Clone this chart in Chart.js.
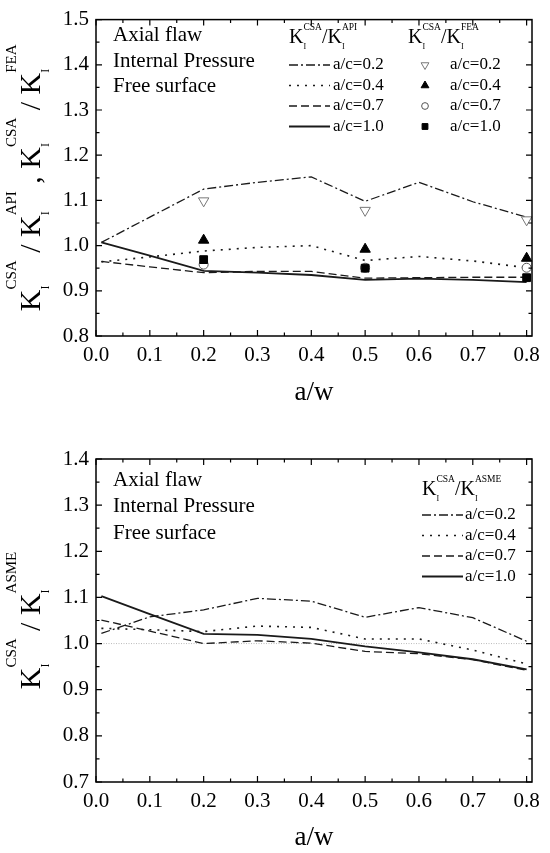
<!DOCTYPE html>
<html>
<head>
<meta charset="utf-8">
<script src="https://cdn.jsdelivr.net/npm/chart.js"></script>
<style>
  html, body { margin: 0; padding: 0; background: #fff; }
  canvas { display: block; }
</style>
</head>
<body>
<canvas id="topChart" width="550" height="426"></canvas>
<canvas id="bottomChart" width="550" height="427"></canvas>
<script>
// a/w positions of the curves and of the FEA points
var aw = [0.01, 0.1, 0.2, 0.3, 0.4, 0.5, 0.6, 0.7, 0.8];
var awFea = [0.2, 0.5, 0.8];
var awRef = [0, 0.8];

// KI(CSA)/KI(API), top chart
var api02 = [1.007, 1.063, 1.125, 1.140, 1.152, 1.098, 1.140, 1.097, 1.063];
var api04 = [0.964, 0.975, 0.988, 0.996, 1.000, 0.967, 0.976, 0.966, 0.951];
var api07 = [0.965, 0.953, 0.940, 0.943, 0.943, 0.928, 0.929, 0.930, 0.930];
var api10 = [1.007, 0.978, 0.944, 0.940, 0.935, 0.924, 0.927, 0.924, 0.919];

// KI(CSA)/KI(FEA), top chart
var fea02 = [1.099, 1.078, 1.057];
var fea04 = [1.012, 0.992, 0.972];
var fea07 = [0.958, 0.951, 0.951];
var fea10 = [0.969, 0.950, 0.929];

// KI(CSA)/KI(ASME), bottom chart
var asme02 = [1.022, 1.058, 1.073, 1.098, 1.092, 1.057, 1.078, 1.056, 1.005];
var asme04 = [1.033, 1.030, 1.026, 1.038, 1.035, 1.010, 1.010, 0.986, 0.956];
var asme07 = [1.051, 1.027, 1.000, 1.006, 1.001, 0.983, 0.978, 0.965, 0.942];
var asme10 = [1.103, 1.064, 1.021, 1.019, 1.010, 0.994, 0.981, 0.966, 0.944];
var refLine = [1.0, 1.0];

var acLabels = ['a/c=0.2', 'a/c=0.4', 'a/c=0.7', 'a/c=1.0'];
var xTicks = [0, 0.1, 0.2, 0.3, 0.4, 0.5, 0.6, 0.7, 0.8];
var yTicksTop = [0.8, 0.9, 1.0, 1.1, 1.2, 1.3, 1.4, 1.5];
var yTicksBottom = [0.7, 0.8, 0.9, 1.0, 1.1, 1.2, 1.3, 1.4];

var FONT = '"Liberation Serif", "Times New Roman", serif';
var DASHDOT = [9, 3, 2, 3], DOT = [2, 6], DASH = [8, 4], SOLID = [];

function pts(xs, ys) {
  return ys.map(function (y, i) { return { x: xs[i], y: y }; });
}

function lineSet(label, ys, dash, width, order) {
  return {
    label: label, data: pts(aw, ys), showLine: true, borderColor: '#1a1a1a',
    borderWidth: width, borderDash: dash, pointRadius: 0, tension: 0,
    order: order, kind: 'line'
  };
}

function markSet(label, ys, style, rot, fill, stroke, r, order) {
  return {
    label: label, data: pts(awFea, ys), showLine: false, pointStyle: style,
    pointRotation: rot, pointRadius: r, pointBackgroundColor: fill,
    pointBorderColor: stroke, pointBorderWidth: 1, clip: 10,
    order: order, kind: 'mark'
  };
}

// writes K_I^XXX style text; returns width
function rich(ctx, parts, x, y, f, draw) {
  var cx = x;
  parts.forEach(function (p) {
    ctx.font = f.size + 'px ' + FONT;
    if (p.t !== undefined) {
      if (draw) ctx.fillText(p.t, cx, y);
      cx += ctx.measureText(p.t).width;
      return;
    }
    if (draw) ctx.fillText(p.b, cx, y);
    cx += ctx.measureText(p.b).width;
    ctx.font = f.sub + 'px ' + FONT;
    var w1 = ctx.measureText(p.lo).width;
    if (draw) ctx.fillText(p.lo, cx, y + f.subOff);
    ctx.font = f.sup + 'px ' + FONT;
    var w2 = ctx.measureText(p.hi).width;
    if (draw) ctx.fillText(p.hi, cx, y - f.supOff);
    cx += Math.max(w1, w2);
  });
  return cx - x;
}

function mids(v) {
  var out = [];
  for (var i = 0; i < v.length - 1; i++) out.push((v[i] + v[i + 1]) / 2);
  return out;
}

var K = function (sup) { return { b: 'K', lo: 'I', hi: sup }; };
var T = function (s) { return { t: s }; };

// texts and legend layout of each panel (kept outside the chart options)
var panels = {
  topChart: {
    xTicks: xTicks, yTicks: yTicksTop,
    yTitle: [K('CSA'), T(' / '), K('API'), T(' , '), K('CSA'), T(' / '), K('FEA')],
    xTitleY: 393,
    notes: ['Axial flaw', 'Internal Pressure', 'Free surface'],
    notesY: [35, 61, 86],
    legends: [
      { kind: 'line', x: 289, headerY: 43, header: [K('CSA'), T('/'), K('API')],
        rowsY: [65, 85.5, 106, 126.5], textX: 333 },
      { kind: 'mark', x: 408, headerY: 43, header: [K('CSA'), T('/'), K('FEA')],
        rowsY: [65, 85.5, 106, 126.5], markX: 425, textX: 450 }
    ]
  },
  bottomChart: {
    xTicks: xTicks, yTicks: yTicksBottom,
    yTitle: [K('CSA'), T(' / '), K('ASME')],
    xTitleY: 412,
    notes: ['Axial flaw', 'Internal Pressure', 'Free surface'],
    notesY: [54, 80, 107],
    legends: [
      { kind: 'line', x: 422, headerY: 69, header: [K('CSA'), T('/'), K('ASME')],
        rowsY: [89, 109.5, 130, 150.5], textX: 465 }
    ]
  }
};

var deco = {
  id: 'deco',
  afterDraw: function (chart) {
    var o = panels[chart.canvas.id];
    var ctx = chart.ctx, a = chart.chartArea;
    var sx = chart.scales.x, sy = chart.scales.y;
    ctx.save();
    ctx.setLineDash([]);
    ctx.strokeStyle = '#000';

    // inward ticks on all four sides
    ctx.lineWidth = 1.2;
    ctx.beginPath();
    [[o.xTicks, 6], [mids(o.xTicks), 3.5]].forEach(function (t) {
      t[0].forEach(function (v) {
        var px = sx.getPixelForValue(v);
        ctx.moveTo(px, a.bottom); ctx.lineTo(px, a.bottom - t[1]);
        ctx.moveTo(px, a.top); ctx.lineTo(px, a.top + t[1]);
      });
    });
    [[o.yTicks, 6], [mids(o.yTicks), 3.5]].forEach(function (t) {
      t[0].forEach(function (v) {
        var py = sy.getPixelForValue(v);
        ctx.moveTo(a.left, py); ctx.lineTo(a.left + t[1], py);
        ctx.moveTo(a.right, py); ctx.lineTo(a.right - t[1], py);
      });
    });
    ctx.stroke();
    ctx.lineWidth = 1.5;
    ctx.strokeRect(a.left, a.top, a.right - a.left, a.bottom - a.top);

    ctx.fillStyle = '#000';

    // y title, rotated
    var tf = { size: 30, sub: 12, sup: 15, subOff: 9, supOff: 24 };
    ctx.save();
    ctx.translate(40, (a.top + a.bottom) / 2);
    ctx.rotate(-Math.PI / 2);
    ctx.textBaseline = 'alphabetic';
    ctx.textAlign = 'left';
    var tw = rich(ctx, o.yTitle, 0, 0, tf, false);
    rich(ctx, o.yTitle, -tw / 2, 0, tf, true);
    ctx.restore();

    // x title
    ctx.font = '27px ' + FONT;
    ctx.textAlign = 'center';
    ctx.textBaseline = 'middle';
    ctx.fillText('a/w', (a.left + a.right) / 2, o.xTitleY);

    // notes
    ctx.font = '21px ' + FONT;
    ctx.textAlign = 'left';
    o.notes.forEach(function (n, i) {
      ctx.fillText(n, 113, o.notesY[i]);
    });

    // legend columns
    var hf = { size: 20, sub: 8, sup: 9.5, subOff: 6, supOff: 13 };
    o.legends.forEach(function (L) {
      ctx.textBaseline = 'alphabetic';
      rich(ctx, L.header, L.x, L.headerY, hf, true);
      var sets = chart.data.datasets.filter(function (d) { return d.kind === L.kind; });
      sets.forEach(function (d, i) {
        var y = L.rowsY[i];
        if (L.kind === 'line') {
          ctx.save();
          ctx.strokeStyle = d.borderColor;
          ctx.lineWidth = d.borderWidth;
          ctx.setLineDash(d.borderDash);
          ctx.beginPath();
          ctx.moveTo(L.x, y); ctx.lineTo(L.x + 41, y);
          ctx.stroke();
          ctx.restore();
        } else {
          ctx.save();
          ctx.fillStyle = d.pointBackgroundColor;
          ctx.strokeStyle = d.pointBorderColor;
          ctx.lineWidth = 1;
          Chart.helpers.drawPoint(ctx, {
            pointStyle: d.pointStyle, rotation: d.pointRotation,
            radius: d.pointRadius * 0.75, borderWidth: 1
          }, L.markX, y);
          ctx.restore();
        }
        ctx.fillStyle = '#000';
        ctx.font = '17px ' + FONT;
        ctx.textBaseline = 'middle';
        ctx.fillText(d.label, L.textX, y);
      });
    });
    ctx.restore();
  }
};

function makeChart(id, datasets, yTicks, areaTop, areaBottom, canvasH) {
  var ymin = yTicks[0], ymax = yTicks[yTicks.length - 1];
  return new Chart(document.getElementById(id), {
    type: 'scatter',
    data: { datasets: datasets },
    plugins: [deco],
    options: {
      responsive: false,
      animation: false,
      layout: { padding: { top: areaTop, right: 18, left: 0, bottom: 0 } },
      plugins: { legend: { display: false }, tooltip: { enabled: false } },
      scales: {
        x: {
          type: 'linear', min: 0, max: 0.81,
          grid: { display: false, drawTicks: false }, border: { display: false },
          afterBuildTicks: function (s) { s.ticks = xTicks.map(function (v) { return { value: v }; }); },
          afterFit: function (s) { s.height = canvasH - areaBottom; },
          ticks: {
            padding: 7, color: '#000', font: { family: FONT, size: 21 },
            maxRotation: 0, autoSkip: false,
            callback: function (v) { return Number(v).toFixed(1); }
          }
        },
        y: {
          type: 'linear', min: ymin, max: ymax,
          grid: { display: false, drawTicks: false }, border: { display: false },
          afterBuildTicks: function (s) { s.ticks = yTicks.map(function (v) { return { value: v }; }); },
          afterFit: function (s) { s.width = 96; },
          ticks: {
            padding: 7, color: '#000', font: { family: FONT, size: 21 }, autoSkip: false,
            callback: function (v) { return Number(v).toFixed(1); }
          }
        }
      }
    }
  });
}

makeChart('topChart', [
  markSet(acLabels[0], fea02, 'triangle', 180, '#fff', '#777', 6, 4),
  markSet(acLabels[1], fea04, 'triangle', 0, '#000', '#000', 6, 3),
  markSet(acLabels[2], fea07, 'circle', 0, '#fff', '#555', 4.5, 2),
  markSet(acLabels[3], fea10, 'rect', 0, '#000', '#000', 5.5, 1),
  lineSet(acLabels[0], api02, DASHDOT, 1.3, 10),
  lineSet(acLabels[1], api04, DOT, 1.6, 11),
  lineSet(acLabels[2], api07, DASH, 1.3, 12),
  lineSet(acLabels[3], api10, SOLID, 1.8, 13)
], yTicksTop, 15, 336, 426);

makeChart('bottomChart', [
  lineSet(acLabels[0], asme02, DASHDOT, 1.3, 10),
  lineSet(acLabels[1], asme04, DOT, 1.6, 11),
  lineSet(acLabels[2], asme07, DASH, 1.3, 12),
  lineSet(acLabels[3], asme10, SOLID, 1.8, 13),
  { label: '', data: pts(awRef, refLine), showLine: true, borderColor: '#bbb',
    borderWidth: 1, borderDash: [1, 1.5], pointRadius: 0, order: 20, kind: 'ref' }
], yTicksBottom, 33, 356, 427);
</script>
</body>
</html>
